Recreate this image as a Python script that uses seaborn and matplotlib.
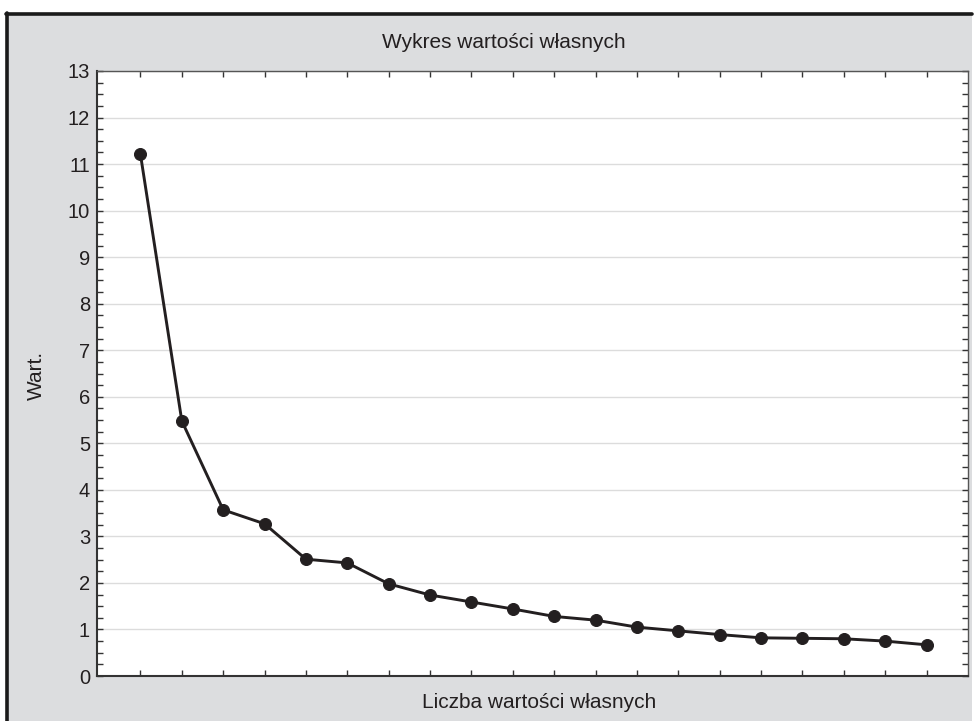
import matplotlib.pyplot as plt
import matplotlib.patches as mpatches
from matplotlib.ticker import MultipleLocator
import numpy as np
import pandas as pd
import seaborn as sns

# eigenvalues
numer = list(range(1, 21))
wartosci = [11.21, 5.48, 3.57, 3.27, 2.51, 2.43, 1.98, 1.74, 1.59, 1.44,
            1.28, 1.20, 1.05, 0.97, 0.89, 0.82, 0.81, 0.80, 0.75, 0.67]

df = pd.DataFrame({"nr": numer, "wart": wartosci})

sns.set_style("white")
plt.rcParams['font.family'] = ['Liberation Sans', 'DejaVu Sans']

W, H = 979, 721
fig = plt.figure(figsize=(W / 100, H / 100), dpi=100)
fig.patch.set_facecolor("white")

# gray panel with black top/left border
fig.patches.append(mpatches.Rectangle((7 / W, 0), (972 - 7) / W, (H - 13) / H,
                                      transform=fig.transFigure, facecolor="#dcdddf",
                                      edgecolor="none", zorder=-5))
fig.add_artist(plt.Line2D([7 / W, 7 / W], [0, (H - 13) / H], transform=fig.transFigure,
                          color="#1a1a1a", lw=2.6, zorder=-4))
fig.add_artist(plt.Line2D([6 / W, 972 / W], [(H - 14) / H, (H - 14) / H],
                          transform=fig.transFigure, color="#1a1a1a", lw=2.6, zorder=-4))

ax = fig.add_axes([97 / W, (H - 676) / H, (968 - 97) / W, (676 - 71) / H])
ax.set_facecolor("white")

sns.lineplot(data=df, x="nr", y="wart", ax=ax, color="#231f20", lw=2.1,
             marker="o", markersize=8.6, markeredgecolor="#231f20", zorder=3)

ax.set_xlim(-0.05, 21.0)
ax.set_ylim(0, 13)
ax.set_xticks(numer)
ax.set_xticklabels([])
ax.yaxis.set_major_locator(MultipleLocator(1))
ax.yaxis.set_minor_locator(MultipleLocator(0.25))
ax.tick_params(axis="y", which="both", direction="in", left=True, right=True,
               length=4, width=1, color="#333333", labelsize=14.5, pad=5,
               labelcolor="#231f20")
ax.tick_params(axis="x", which="both", direction="in", bottom=True, top=True,
               length=4, width=1, color="#333333")
ax.grid(axis="y", which="major", color="#dcdcdc", lw=1)
ax.set_axisbelow(True)
for s in ax.spines.values():
    s.set_color("#555555")
    s.set_linewidth(1)
ax.spines["left"].set_color("#333333")
ax.spines["bottom"].set_color("#333333")
ax.spines["left"].set_linewidth(1.5)
ax.spines["bottom"].set_linewidth(1.5)

ax.set_xlabel("")
ax.set_ylabel("")
fig.text(504 / W, 1 - 43 / H, "Wykres wartości własnych", ha="center", va="center",
         fontsize=15, color="#231f20")
fig.text(539 / W, 1 - 703 / H, "Liczba wartości własnych", ha="center", va="center",
         fontsize=15, color="#231f20")
fig.text(36 / W, 1 - 375 / H, "Wart.", ha="center", va="center", rotation=90,
         fontsize=15, color="#231f20")

fig.savefig("out.png", dpi=100)
